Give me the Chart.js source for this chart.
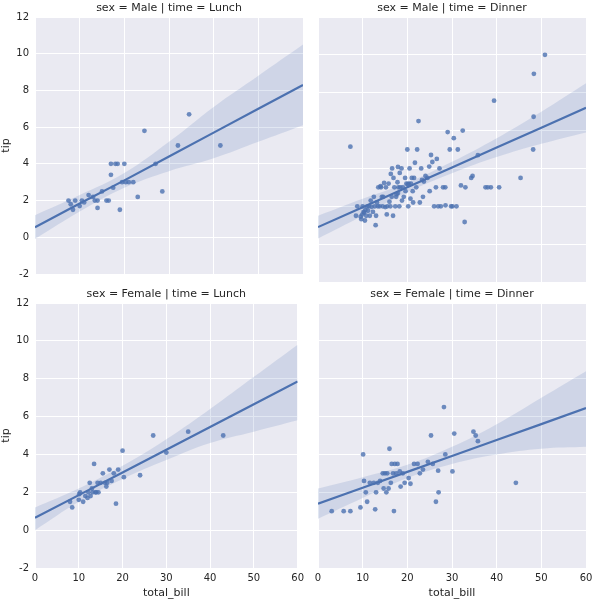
<!DOCTYPE html>
<html>
<head>
<meta charset="utf-8">
<script src="https://cdn.jsdelivr.net/npm/chart.js@4"></script>
<style>
body { margin: 0; background: #fff; }
#wrap { position: relative; width: 599px; height: 600px; }
.p { position: absolute; }
</style>
</head>
<body>
<div id="wrap">
  <div class="p" style="left:0;top:0;width:308px;height:286px"><canvas id="c0"></canvas></div>
  <div class="p" style="left:308px;top:0;width:291px;height:286px"><canvas id="c1"></canvas></div>
  <div class="p" style="left:0;top:286px;width:308px;height:314px"><canvas id="c2"></canvas></div>
  <div class="p" style="left:308px;top:286px;width:291px;height:314px"><canvas id="c3"></canvas></div>
</div>
<script>
const panelTitles = ['sex = Male | time = Lunch', 'sex = Male | time = Dinner', 'sex = Female | time = Lunch', 'sex = Female | time = Dinner'];
const xTicks = [0, 10, 20, 30, 40, 50, 60];
const yTicks = [-2, 0, 2, 4, 6, 8, 10, 12];

// points [total_bill, tip]
const maleLunch = [[7.5,2],[8.5,1.5],[8,1.8],[9,2],[10,1.7],[10.5,2],[11,1.9],[12,2.3],[13,2.2],[13.4,2],[14,2],[14,1.6],[15,2.5],[16,2],[16.5,2],[17,4],[17,3.4],[17.5,2.7],[18,4],[18.5,4],[19,1.5],[19.5,3],[20,4],[20.3,3],[21,3],[22,3],[23,2.2],[24.5,5.8],[27,4],[28.5,2.5],[32,5],[34.5,6.7],[41.5,5]];
const maleDinner = [[7.25,5.15],[50.81,10],[48.33,9],[48.17,5],[48.27,6.73],[45.35,3.5],[40.55,3],[39.42,7.58],[38.01,3],[38.7,3],[37.5,3],[35.8,4.7],[34.6,3.6],[34.3,3.5],[32.83,1.17],[32.4,6],[32,3.1],[31.3,5],[30.4,5.6],[30.1,2],[29.8,2],[29.5,5],[29.03,5.92],[28.5,3],[28.55,2.05],[28,3],[27.2,4],[26.9,2],[26.6,4.5],[26.4,3],[26,2],[25.6,4.34],[25.3,4.71],[24.9,4.1],[24.5,3.5],[24.06,3.6],[23.7,3.31],[23.3,3.4],[23.1,4],[22.8,2.2],[22.5,6.5],[22.2,5],[22,3],[21.7,4.3],[21.5,3.5],[21.3,2.2],[21,3.5],[20.8,3.2],[20.7,2.4],[20.5,4],[20.3,3.2],[20.2,2],[20.1,3.15],[20,5],[19.8,3.2],[19.5,3.5],[19.2,2.5],[19,3],[18.8,2.3],[18.7,4],[18.4,3],[18.3,3.76],[18.2,2],[18,3],[17.9,4.08],[17.8,3.27],[17.6,2.64],[17.5,2.5],[17.3,2],[17.1,3],[16.9,3.5],[16.6,4],[16.5,2.5],[16.3,3.71],[16.2,2],[16,2.24],[15.8,3.2],[15.5,2],[15.4,1.57],[15.2,3],[15.05,1.96],[14.8,3.23],[14.5,2],[14.3,2.5],[14,3.06],[13.8,2],[13.5,3],[13.4,2],[13.2,2.2],[13,1.5],[12.7,2],[12.5,2.5],[12.3,1.7],[12,1.97],[11.8,2.3],[11.6,1.5],[11.4,2],[11.2,1.76],[11,1.98],[10.8,1.5],[10.6,1.8],[10.5,1.25],[10.3,1.66],[10.2,1.7],[10,2],[9.9,1.56],[9.7,1.32],[9.55,1.45],[8.8,2],[8.5,1.5],[12.9,1],[14.1,3],[16.8,1.5],[19.6,2.8],[23.5,2.5],[25,2.8],[33,3],[14.6,2.5],[17.9,2.7],[21.2,2.8],[27.5,2],[31,2]];
const femaleLunch = [[8,1.5],[8.5,1.2],[10,1.6],[10.1,1.9],[10.3,2],[11,1.5],[11.5,1.8],[12,1.7],[12.2,2],[12.5,2.5],[12.7,1.8],[13,2.2],[13.2,2],[13.5,3.5],[13.8,2],[14,2],[14.3,2.5],[14.5,2],[15,2.5],[15.5,3],[16,2.5],[16.3,2.3],[16.5,2.5],[17,3.2],[17.5,2.6],[18,3],[18.5,1.4],[19,3.2],[20,4.2],[20.3,2.8],[24,2.9],[27,5],[30,4.1],[35,5.2],[43,5]];
const femaleDinner = [[3.07,1],[5.75,1],[7.25,1],[9.5,1.2],[10.1,4],[10.3,2.6],[10.7,2],[11,1.5],[11.6,2.5],[12.5,2.5],[12.8,1.1],[13,2],[13.4,2.5],[13.9,2.6],[14.5,3],[14.7,2.2],[15,3],[15.3,2],[15.5,3],[15.8,2.2],[16,4.3],[16.3,2.5],[16.5,3.5],[16.8,3],[17,1.01],[17.2,3.5],[17.5,3],[17.8,3.5],[18.3,3.1],[18.5,2.3],[19,3],[19.4,2.5],[20.3,2.75],[20.7,2.45],[21.5,3.5],[22.3,3.5],[22.8,3],[23.5,3.2],[24.6,3.61],[25.3,5],[25.7,3.5],[26.4,1.5],[26.9,3.14],[27,2],[28.2,6.5],[28.5,4],[30.1,3.1],[30.5,5.1],[34.8,5.2],[35.3,5],[35.8,4.7],[44.3,2.5]];
const facetPoints = [maleLunch, maleDinner, femaleLunch, femaleDinner];

// regression line and 95% band at xTicks
const fitLine = [
  [0.55, 1.84, 3.1, 4.4, 5.7, 7.0, 8.3],
  [0.9, 1.95, 3.0, 4.05, 5.1, 6.15, 7.2],
  [0.65, 1.85, 3.05, 4.25, 5.45, 6.65, 7.85],
  [1.4, 2.24, 3.08, 3.92, 4.76, 5.6, 6.45]
];
const bandLow = [
  [-0.1, 1.4, 2.7, 3.6, 4.3, 5.2, 6.1],
  [0.3, 1.5, 2.75, 3.75, 4.6, 5.3, 5.9],
  [0.0, 1.5, 2.7, 3.7, 4.6, 5.2, 5.8],
  [0.6, 1.7, 2.75, 3.5, 4.0, 4.3, 4.4]
];
const bandHigh = [
  [1.2, 2.3, 3.5, 5.2, 7.1, 8.8, 10.5],
  [1.5, 2.4, 3.25, 4.35, 5.6, 7.0, 8.5],
  [1.2, 2.2, 3.4, 4.8, 6.4, 8.1, 9.8],
  [2.2, 2.8, 3.45, 4.4, 5.6, 7.0, 8.4]
];

const blue = '#4C72B0';
const bgPlugin = {
  id: 'bg',
  beforeDraw(chart) {
    const a = chart.chartArea, ctx = chart.ctx;
    ctx.save();
    ctx.fillStyle = '#EAEAF2';
    ctx.fillRect(a.left, a.top, a.right - a.left, a.bottom - a.top);
    ctx.restore();
  },
  afterDraw(chart) {
    const a = chart.chartArea, ctx = chart.ctx;
    ctx.save();
    ctx.fillStyle = '#262626';
    ctx.font = '11px "DejaVu Sans"';
    ctx.textAlign = 'center';
    ctx.textBaseline = 'bottom';
    ctx.fillText(chart.options.panelTitle, (a.left + a.right) / 2, a.top - 3);
    ctx.restore();
  }
};

function toXY(arr) { return xTicks.map((x, i) => ({ x: x, y: arr[i] })); }

for (let i = 0; i < 4; i++) {
  const left = i % 2 === 0, bottom = i >= 2;
  new Chart(document.getElementById('c' + i), {
    type: 'scatter',
    data: {
      datasets: [
        { data: toXY(bandLow[i]), showLine: true, pointRadius: 0, borderWidth: 0, tension: 0.4, fill: false },
        { data: toXY(bandHigh[i]), showLine: true, pointRadius: 0, borderWidth: 0, tension: 0.4, fill: '-1', backgroundColor: 'rgba(76,114,176,0.17)' },
        { data: facetPoints[i].map(p => ({ x: p[0], y: p[1] })), pointRadius: 2.4, pointBorderWidth: 0, backgroundColor: 'rgba(76,114,176,0.8)' },
        { data: toXY(fitLine[i]), showLine: true, pointRadius: 0, borderColor: blue, borderWidth: 2.2 }
      ]
    },
    options: {
      panelTitle: panelTitles[i],
      responsive: true,
      maintainAspectRatio: false,
      animation: false,
      layout: { padding: { top: bottom ? 17 : 17, right: left ? 5 : 13, left: 0, bottom: 0 } },
      plugins: { legend: { display: false }, tooltip: { enabled: false } },
      scales: {
        x: {
          type: 'linear', min: 0, max: 60,
          afterBuildTicks: s => { s.ticks = xTicks.map(v => ({ value: v })); },
          afterFit: s => { s.height = bottom ? 32 : 3; },
          grid: { color: '#fff', lineWidth: 1, drawTicks: false },
          border: { display: false },
          ticks: { display: bottom, color: '#262626', font: { size: 10, family: 'DejaVu Sans' }, padding: 4 },
          title: { display: bottom, text: 'total_bill', color: '#262626', font: { size: 11, family: 'DejaVu Sans' }, padding: 0 }
        },
        y: {
          min: -2, max: 12,
          afterBuildTicks: s => { s.ticks = yTicks.map(v => ({ value: v })); },
          afterFit: s => { s.width = left ? 35 : 10; },
          grid: { color: '#fff', lineWidth: 1, drawTicks: false },
          border: { display: false },
          ticks: { display: left, color: '#262626', font: { size: 10, family: 'DejaVu Sans' }, padding: 6 },
          title: { display: left, text: 'tip', color: '#262626', font: { size: 11, family: 'DejaVu Sans' }, padding: 0 }
        }
      }
    },
    plugins: [bgPlugin]
  });
}
</script>
</body>
</html>
